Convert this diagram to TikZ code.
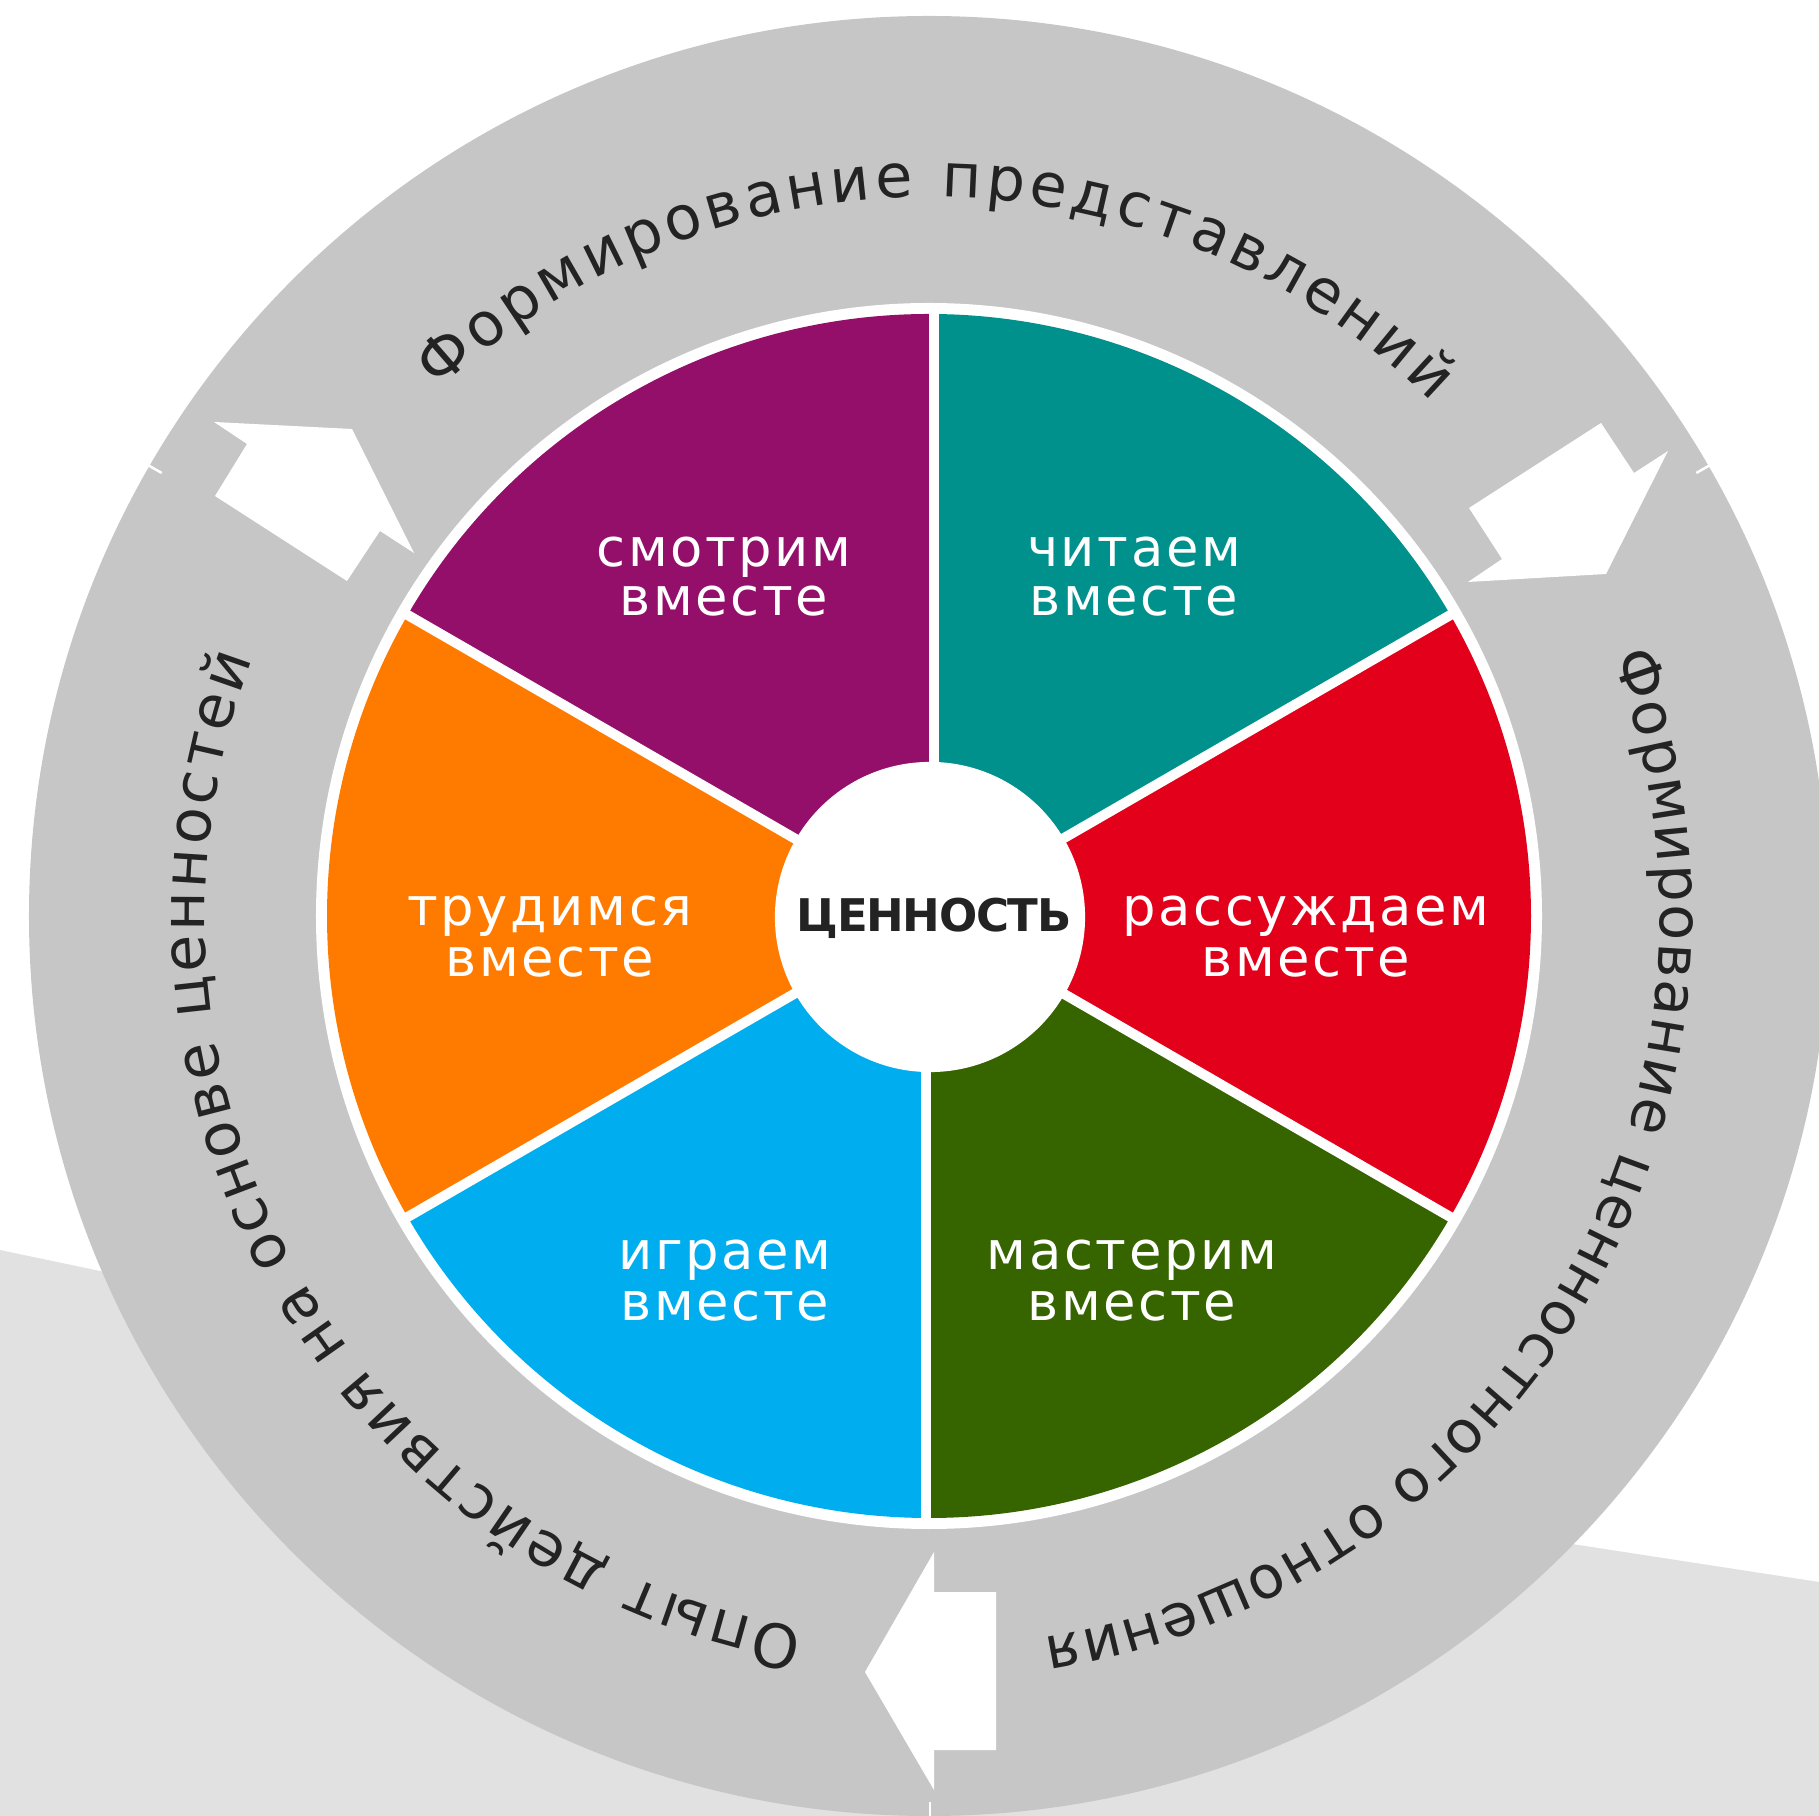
\documentclass[tikz,border=0pt]{standalone}
\usepackage{fontspec}
\setmainfont{DejaVu Sans}
\newfontfamily\ringfam{DejaVu Sans}
\newfontfamily\segfam[LetterSpace=5]{DejaVu Sans}
\newfontfamily\centfam[LetterSpace=-3]{DejaVu Sans}
\usetikzlibrary{decorations.text}
\definecolor{cpurple}{HTML}{930F69}
\definecolor{cteal}{HTML}{00918C}
\definecolor{cred}{HTML}{E2001A}
\definecolor{cgreen}{HTML}{366500}
\definecolor{cblue}{HTML}{00AEEF}
\definecolor{corange}{HTML}{FF7B00}
\definecolor{ringgray}{HTML}{C6C6C6}
\definecolor{bandgray}{HTML}{E1E1E1}
\definecolor{txt}{HTML}{232323}
\newcommand\segfont{\segfam\fontsize{15pt}{17pt}\selectfont}
\newcommand\ringtext{\ringfam\fontsize{17.2pt}{20pt}\selectfont\color{txt}}
\newcommand\ringtextb{\ringfam\fontsize{16.8pt}{20pt}\selectfont\color{txt}}
\tikzset{
  seglabel/.style={anchor=base, text=white, font=\segfont, inner sep=0pt},
  divider/.style={white, line width=0.1cm},
  seam/.style={white, line width=0.025cm},
  blockarrow/.style={fill=white},
  ringlabel/.style={decorate, decoration={text along path, text align={fit to path}}}
}
\begin{document}
\begin{tikzpicture}[x=0.01cm, y=0.01cm]
\useasboundingbox (-929,-900) rectangle (890,916);
% background band
\fill[bandgray] (-929,-334) -- (0,-529) -- (890,-666) -- (890,-900) -- (-929,-900) -- cycle;
% ring
\fill[ringgray] (0,0) circle[radius=900];
\fill[white] (0,0) circle[radius=613];
% seams
\draw[seam] (150:886) -- (150:902);
\draw[seam] (30:886) -- (30:902);
\draw[seam] (1,-886) -- (1,-902);
% sectors
\fill[cpurple] (0,0) -- (90:602) arc[start angle=90, end angle=150, radius=602] -- cycle;
\fill[corange] (0,0) -- (150:602) arc[start angle=150, end angle=210, radius=602] -- cycle;
\fill[cblue] (0,0) -- (210:602) arc[start angle=210, end angle=270, radius=602] -- cycle;
\fill[cgreen] (0,0) -- (270:602) arc[start angle=270, end angle=330, radius=602] -- cycle;
\fill[cred] (0,0) -- (330:602) arc[start angle=330, end angle=390, radius=602] -- cycle;
\fill[cteal] (0,0) -- (30:602) arc[start angle=30, end angle=90, radius=602] -- cycle;
% dividers
\draw[divider] (5,0) -- (5,608);
\draw[divider] (-3,0) -- (-3,-608);
\draw[divider] (0,0) -- (30:608);
\draw[divider] (0,0) -- (150:608);
\draw[divider] (0,0) -- (210:608);
\draw[divider] (0,0) -- (330:608);
% center
\node[circle, fill=white, minimum size=3.1cm, inner sep=0pt] (hub) at (1,-1) {};
\node[anchor=base, inner sep=0pt, text=txt, font=\centfam\bfseries\fontsize{12.8pt}{14pt}\selectfont] (value) at (5,-16) {ЦЕННОСТЬ};
% segment labels
\node[seglabel] (l1a) at (-205,349) {смотрим};
\node[seglabel] (l1b) at (-205,300) {вместе};
\node[seglabel] (l2a) at (205,349) {читаем};
\node[seglabel] (l2b) at (205,300) {вместе};
\node[seglabel] (l3a) at (377,-10) {рассуждаем};
\node[seglabel] (l3b) at (377,-61) {вместе};
\node[seglabel] (l4a) at (-379,-10) {трудимся};
\node[seglabel] (l4b) at (-379,-61) {вместе};
\node[seglabel] (l5a) at (-204,-354) {играем};
\node[seglabel] (l5b) at (-204,-405) {вместе};
\node[seglabel] (l6a) at (203,-354) {мастерим};
\node[seglabel] (l6b) at (203,-405) {вместе};
% arrows
\fill[blockarrow] (-715,494) -- (-577,487) -- (-515,363) -- (-549,385) -- (-582,335) -- (-714,420) -- (-682,472) -- cycle;
\fill[blockarrow] (672,493) -- (705,443) -- (739,465) -- (677,342) -- (539,334) -- (573,357) -- (540,408) -- cycle;
\fill[blockarrow] (-64,-756) -- (5,-636) -- (5,-676) -- (67,-676) -- (67,-834) -- (5,-834) -- (5,-874) -- cycle;
% ring texts
\path[ringlabel, decoration={text={|\ringtext|Формирование представлений}}] (133:719) arc[start angle=133, end angle=45.7, radius=719];
\path[ringlabel, decoration={text={|\ringtextb|Формирование ценностного отношения}}] (20.8:731) arc[start angle=20.8, end angle=-81, radius=731];
\path[ringlabel, decoration={text={|\ringtext|Опыт действия на основе ценностей}}] (260:724) arc[start angle=260, end angle=159.2, radius=724];
\end{tikzpicture}
\end{document}
